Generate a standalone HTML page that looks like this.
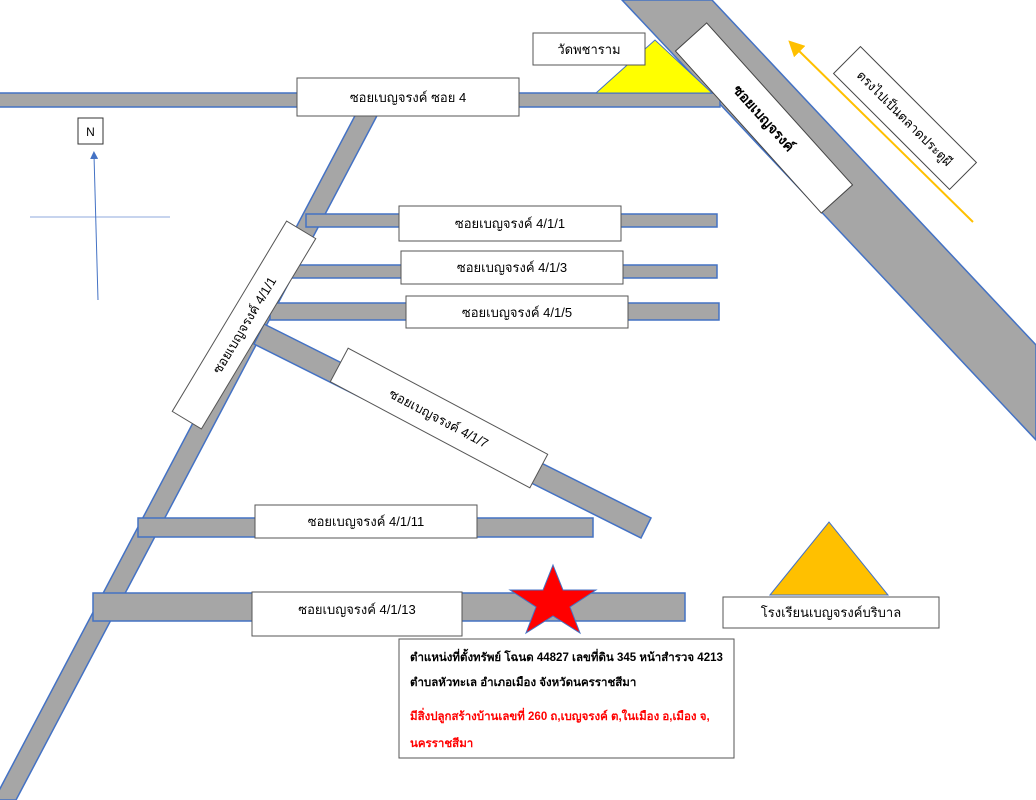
<!DOCTYPE html>
<html><head><meta charset="utf-8"><style>
html,body{margin:0;padding:0;background:#fff;}
svg{display:block;font-family:"Liberation Sans","DejaVu Sans",sans-serif;}
</style></head><body>
<svg width="1036" height="800" viewBox="0 0 1036 800" xmlns="http://www.w3.org/2000/svg">
<defs>
<marker id="ar" markerWidth="8" markerHeight="8" refX="4" refY="4" orient="auto"><path d="M0,0 L8,4 L0,8z" fill="#ffc000"/></marker>
<marker id="ab" markerWidth="8" markerHeight="8" refX="4" refY="4" orient="auto"><path d="M0,0 L8,4 L0,8z" fill="#4472c4"/></marker>
</defs>
<g fill="#a6a6a6" stroke="#4472c4" stroke-width="1.5">
<polygon points="622,0 712,0 1036,345 1036,440"/>
<rect x="-2" y="93" width="722" height="14"/>
<polygon points="358,110 380,110 16,800 -6,800"/>
<rect x="306" y="214" width="411" height="13"/>
<rect x="290" y="265" width="427" height="13"/>
<rect x="270" y="303" width="449" height="17"/>
<polygon points="264,324 651,518 641,538 254,344"/>
<rect x="138" y="518" width="455" height="19"/>
<rect x="93" y="593" width="592" height="28"/>
</g>
<line x1="30" y1="217" x2="170" y2="217" stroke="#8faadc" stroke-width="1"/>
<line x1="98" y1="300" x2="94" y2="155" stroke="#4472c4" stroke-width="1" marker-end="url(#ab)"/>
<rect x="78" y="118" width="25" height="26" fill="#fff" stroke="#333"/>
<text x="90.5" y="136" font-size="12" text-anchor="middle">N</text>
<polygon points="596,93 655,40 712,93" fill="#ffff00" stroke="#4472c4" stroke-width="1"/>
<rect x="533" y="33" width="112" height="32" fill="#fff" stroke="#555"/>
<text x="589" y="54" font-size="13" text-anchor="middle">วัดพชาราม</text>
<rect x="297" y="78" width="222" height="38" fill="#fff" stroke="#555"/>
<text x="408" y="102" font-size="13" text-anchor="middle">ซอยเบญจรงค์ ซอย 4</text>
<g transform="translate(764,118) rotate(48)">
<rect x="-109" y="-21" width="218" height="42" fill="#fff" stroke="#444"/>
<text x="0" y="5" font-size="14" font-weight="bold" text-anchor="middle">ซอยเบญจรงค์</text>
</g>
<line x1="973" y1="222" x2="794" y2="46" stroke="#ffc000" stroke-width="2" marker-end="url(#ar)"/>
<g transform="translate(905,118) rotate(45)">
<rect x="-82" y="-19" width="164" height="38" fill="#fff" stroke="#444"/>
<text x="0" y="5" font-size="13" text-anchor="middle">ตรงไปเป็นตลาดประตูผี</text>
</g>
<g fill="#fff" stroke="#555">
<rect x="399" y="206" width="222" height="35"/>
<rect x="401" y="251" width="222" height="33"/>
<rect x="406" y="296" width="222" height="32"/>
<rect x="255" y="505" width="222" height="33"/>
<rect x="252" y="592" width="210" height="44"/>
</g>
<g font-size="13" text-anchor="middle">
<text x="510" y="228">ซอยเบญจรงค์ 4/1/1</text>
<text x="512" y="272">ซอยเบญจรงค์ 4/1/3</text>
<text x="517" y="317">ซอยเบญจรงค์ 4/1/5</text>
<text x="366" y="526">ซอยเบญจรงค์ 4/1/11</text>
<text x="357" y="614">ซอยเบญจรงค์ 4/1/13</text>
</g>
<g transform="translate(244,325) rotate(-59)">
<rect x="-111" y="-17" width="222" height="34" fill="#fff" stroke="#555"/>
<text x="0" y="5" font-size="13" text-anchor="middle">ซอยเบญจรงค์ 4/1/1</text>
</g>
<g transform="translate(439,418) rotate(28)">
<rect x="-113" y="-19" width="226" height="38" fill="#fff" stroke="#555"/>
<text x="0" y="5" font-size="13" text-anchor="middle">ซอยเบญจรงค์ 4/1/7</text>
</g>
<polygon fill="#ff0000" stroke="#4472c4" stroke-width="1" points="553,565 563,590 596,590 570,607 580,633 553,616 526,633 536,607 510,590 543,590"/>
<polygon points="770,595 829,522 888,595" fill="#ffc000" stroke="#4472c4" stroke-width="1"/>
<rect x="723" y="597" width="216" height="31" fill="#fff" stroke="#555"/>
<text x="831" y="617" font-size="13" text-anchor="middle">โรงเรียนเบญจรงค์บริบาล</text>
<rect x="399" y="639" width="335" height="119" fill="#fff" stroke="#555"/>
<g font-size="11.5" font-weight="bold">
<text x="410" y="661">ตำแหน่งที่ตั้งทรัพย์ โฉนด 44827 เลขที่ดิน 345 หน้าสำรวจ 4213</text>
<text x="410" y="686">ตำบลหัวทะเล อำเภอเมือง จังหวัดนครราชสีมา</text>
<text x="410" y="720" fill="#ff0000">มีสิ่งปลูกสร้างบ้านเลขที่ 260 ถ,เบญจรงค์ ต,ในเมือง อ,เมือง จ,</text>
<text x="410" y="747" fill="#ff0000">นครราชสีมา</text>
</g>
</svg>
</body></html>
